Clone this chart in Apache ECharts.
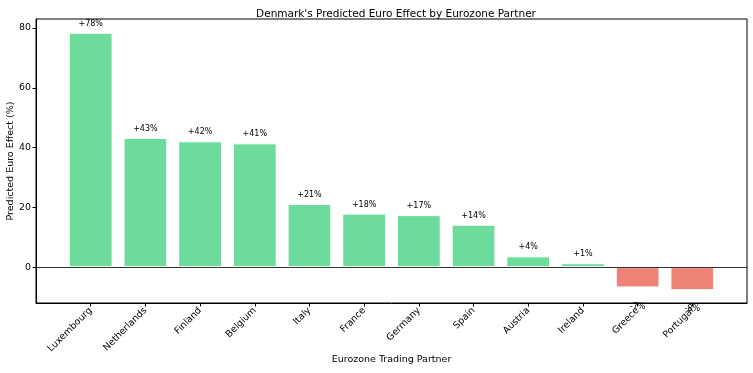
<!DOCTYPE html>
<html>
<head>
<meta charset="utf-8">
<script src="https://cdn.jsdelivr.net/npm/echarts@6/dist/echarts.min.js"></script>
<style>
  html, body { margin: 0; padding: 0; background: #fff; }
  #chart { width: 753px; height: 373px; }
</style>
</head>
<body>
<div id="chart"></div>
<script>
// partners, sorted by predicted effect
const partners = ["Luxembourg", "Netherlands", "Finland", "Belgium", "Italy", "France",
  "Germany", "Spain", "Austria", "Ireland", "Greece", "Portugal"];
const effects = [78.4, 43.2, 42.1, 41.4, 21.1, 17.9, 17.4, 14.2, 3.6, 1.3, -6.8, -7.7];
const yTicks = [0, 20, 40, 60, 80];

const posColor = "#6ddb9c";
const negColor = "#ee8276";
const font = "DejaVu Sans";

var myChart = echarts.init(document.getElementById("chart"));

var barData = effects.map(function(v, i) {
  var neg = v < 0;
  return {
    value: [i, v],
    itemStyle: { color: neg ? negColor : posColor },
    label: {
      position: neg ? "bottom" : "top",
      distance: neg ? 15 : 5
    }
  };
});

var option = {
  animation: false,
  title: {
    text: "Denmark's Predicted Euro Effect by Eurozone Partner",
    left: 391,
    textAlign: "center",
    top: 4,
    textStyle: { fontFamily: font, fontSize: 10.5, fontWeight: "normal", color: "#000" }
  },
  grid: {
    left: 36, right: 6, top: 19, bottom: 70,
    outerBoundsMode: "none",
    containLabel: false,
    show: true, borderColor: "#000", borderWidth: 1, backgroundColor: "transparent"
  },
  xAxis: {
    type: "value",
    min: -1,
    max: 12,
    name: "Eurozone Trading Partner",
    nameLocation: "middle",
    nameGap: 52,
    nameMoveOverlap: false,
    nameTextStyle: { fontFamily: font, fontSize: 9.5, color: "#000" },
    axisLine: { show: true, onZero: false, lineStyle: { color: "#000", width: 1 } },
    axisTick: {
      show: true, length: 3.5, lineStyle: { color: "#000" },
      customValues: partners.map(function(p, i) { return i; })
    },
    axisLabel: {
      rotate: 45,
      margin: 6,
      fontFamily: font, fontSize: 9.4, color: "#000",
      customValues: partners.map(function(p, i) { return i; }),
      formatter: function(v) { return partners[v] || ""; }
    },
    splitLine: { show: false }
  },
  yAxis: {
    type: "value",
    min: -12,
    max: 83,
    name: "Predicted Euro Effect (%)",
    nameLocation: "middle",
    nameGap: 20,
    nameMoveOverlap: false,
    nameTextStyle: { fontFamily: font, fontSize: 9.5, color: "#000" },
    axisLine: { show: true, onZero: false, lineStyle: { color: "#000", width: 1 } },
    axisTick: { show: true, length: 3.5, lineStyle: { color: "#000" }, customValues: yTicks },
    axisLabel: { fontFamily: font, fontSize: 9.4, color: "#000", margin: 5, customValues: yTicks },
    splitLine: { show: false }
  },
  series: [
    {
      type: "bar",
      data: barData,
      barWidth: "80%",
      itemStyle: { borderColor: "#fff", borderWidth: 1 },
      label: {
        show: true,
        fontFamily: font,
        fontSize: 8,
        color: "#000",
        formatter: function(p) {
          var v = Math.round(p.value[1]);
          return (v > 0 ? "+" : "") + v + "%";
        }
      },
      markLine: {
        silent: true,
        symbol: "none",
        label: { show: false },
        lineStyle: { color: "#000", width: 0.8, type: "solid" },
        data: [{ yAxis: 0 }]
      }
    }
  ]
};

myChart.setOption(option);
</script>
</body>
</html>
